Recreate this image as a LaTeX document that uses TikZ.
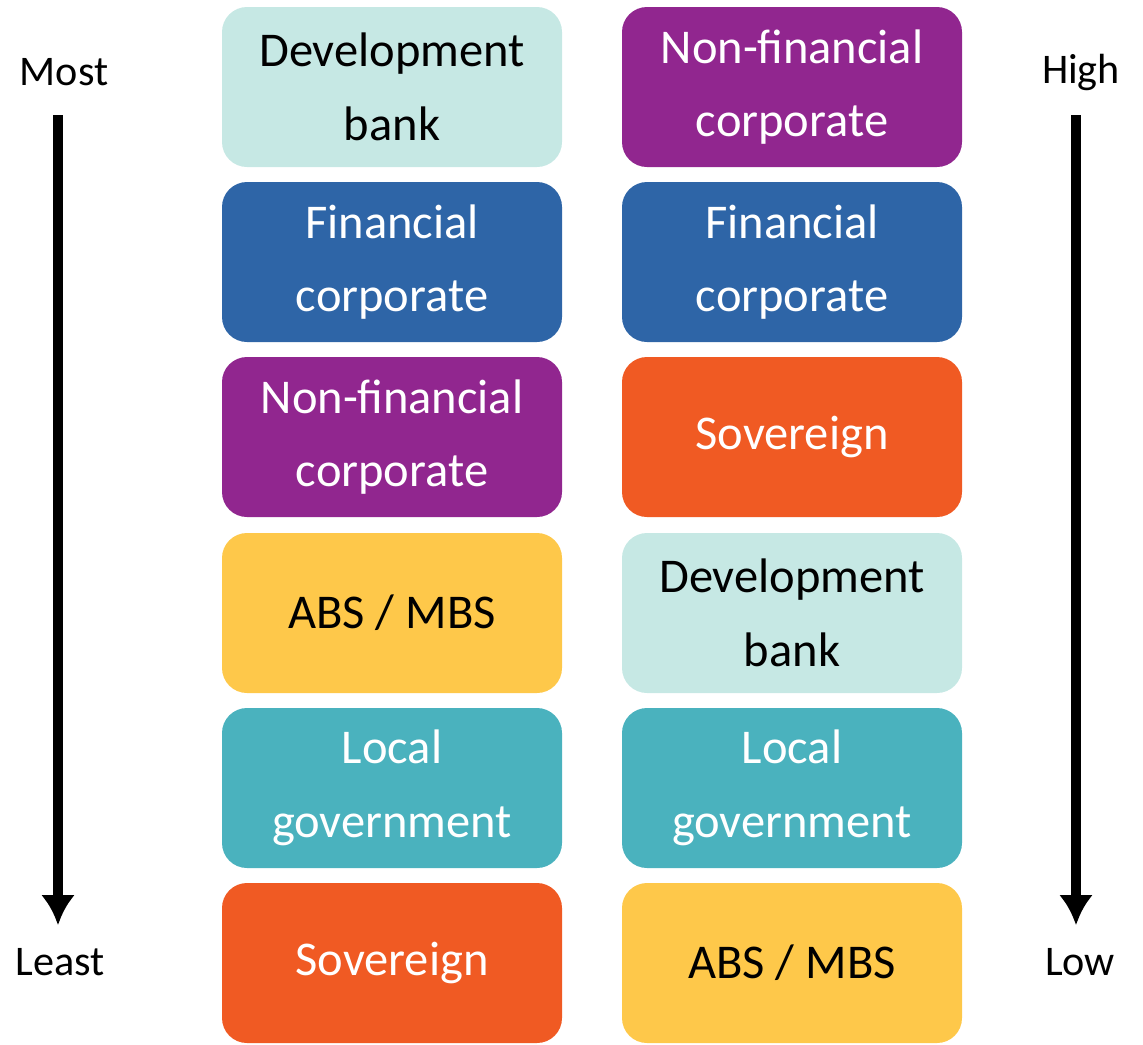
\documentclass[tikz,border=0pt]{standalone}
\usepackage{fontspec}
\setmainfont{Carlito}
\usepackage{tikz}
\usetikzlibrary{arrows.meta}
\usepackage{xcolor}

\definecolor{devbank}{RGB}{198,232,228}
\definecolor{fincorp}{RGB}{46,101,167}
\definecolor{nonfin}{RGB}{145,38,143}
\definecolor{sovereign}{RGB}{240,90,35}
\definecolor{absmbs}{RGB}{254,200,74}
\definecolor{localgov}{RGB}{74,178,190}

\tikzset{
    tier/.style={rounded corners=0.25cm, minimum width=3.4cm, minimum height=1.6cm,
        align=center, inner sep=0pt, font=\fontsize{13.8}{21}\selectfont},
    darktier/.style={tier, text=white},
    lighttier/.style={tier, text=black},
    rank/.style={font=\fontsize{12}{14}\selectfont},
    rankarrow/.style={line width=2.6pt, -{Latex[length=0.3cm, width=0.34cm]}}
}

\begin{document}
\begin{tikzpicture}
                \useasboundingbox (0,0) rectangle (11.43,-10.44);

                % left column
                \node[lighttier, fill=devbank] (l1) at (3.92,-0.87) {Development\\bank};
                \node[darktier, fill=fincorp] (l2) at (3.92,-2.62) {Financial\\corporate};
                \node[darktier, fill=nonfin] (l3) at (3.92,-4.37) {Non-financial\\corporate};
                \node[lighttier, fill=absmbs] (l4) at (3.92,-6.13) {ABS / MBS};
                \node[darktier, fill=localgov] (l5) at (3.92,-7.88) {Local\\government};
                \node[darktier, fill=sovereign] (l6) at (3.92,-9.63) {Sovereign};

                % right column
                \node[darktier, fill=nonfin] (r1) at (7.92,-0.87) {Non-financial\\corporate};
                \node[darktier, fill=fincorp] (r2) at (7.92,-2.62) {Financial\\corporate};
                \node[darktier, fill=sovereign] (r3) at (7.92,-4.37) {Sovereign};
                \node[lighttier, fill=devbank] (r4) at (7.92,-6.13) {Development\\bank};
                \node[darktier, fill=localgov] (r5) at (7.92,-7.88) {Local\\government};
                \node[lighttier, fill=absmbs] (r6) at (7.92,-9.63) {ABS / MBS};

                % side labels
                \node[rank] (most) at (0.64,-0.72) {Most};
                \node[rank] (least) at (0.60,-9.62) {Least};
                \node[rank] (high) at (10.81,-0.72) {High};
                \node[rank] (low) at (10.80,-9.62) {Low};

                \coordinate (ltop) at (0.58,-1.15);
                \coordinate (lbot) at (0.58,-9.25);
                \coordinate (rtop) at (10.76,-1.15);
                \coordinate (rbot) at (10.76,-9.25);
                \draw[rankarrow] (ltop) -- (lbot);
                \draw[rankarrow] (rtop) -- (rbot);

            \end{tikzpicture}
\end{document}
